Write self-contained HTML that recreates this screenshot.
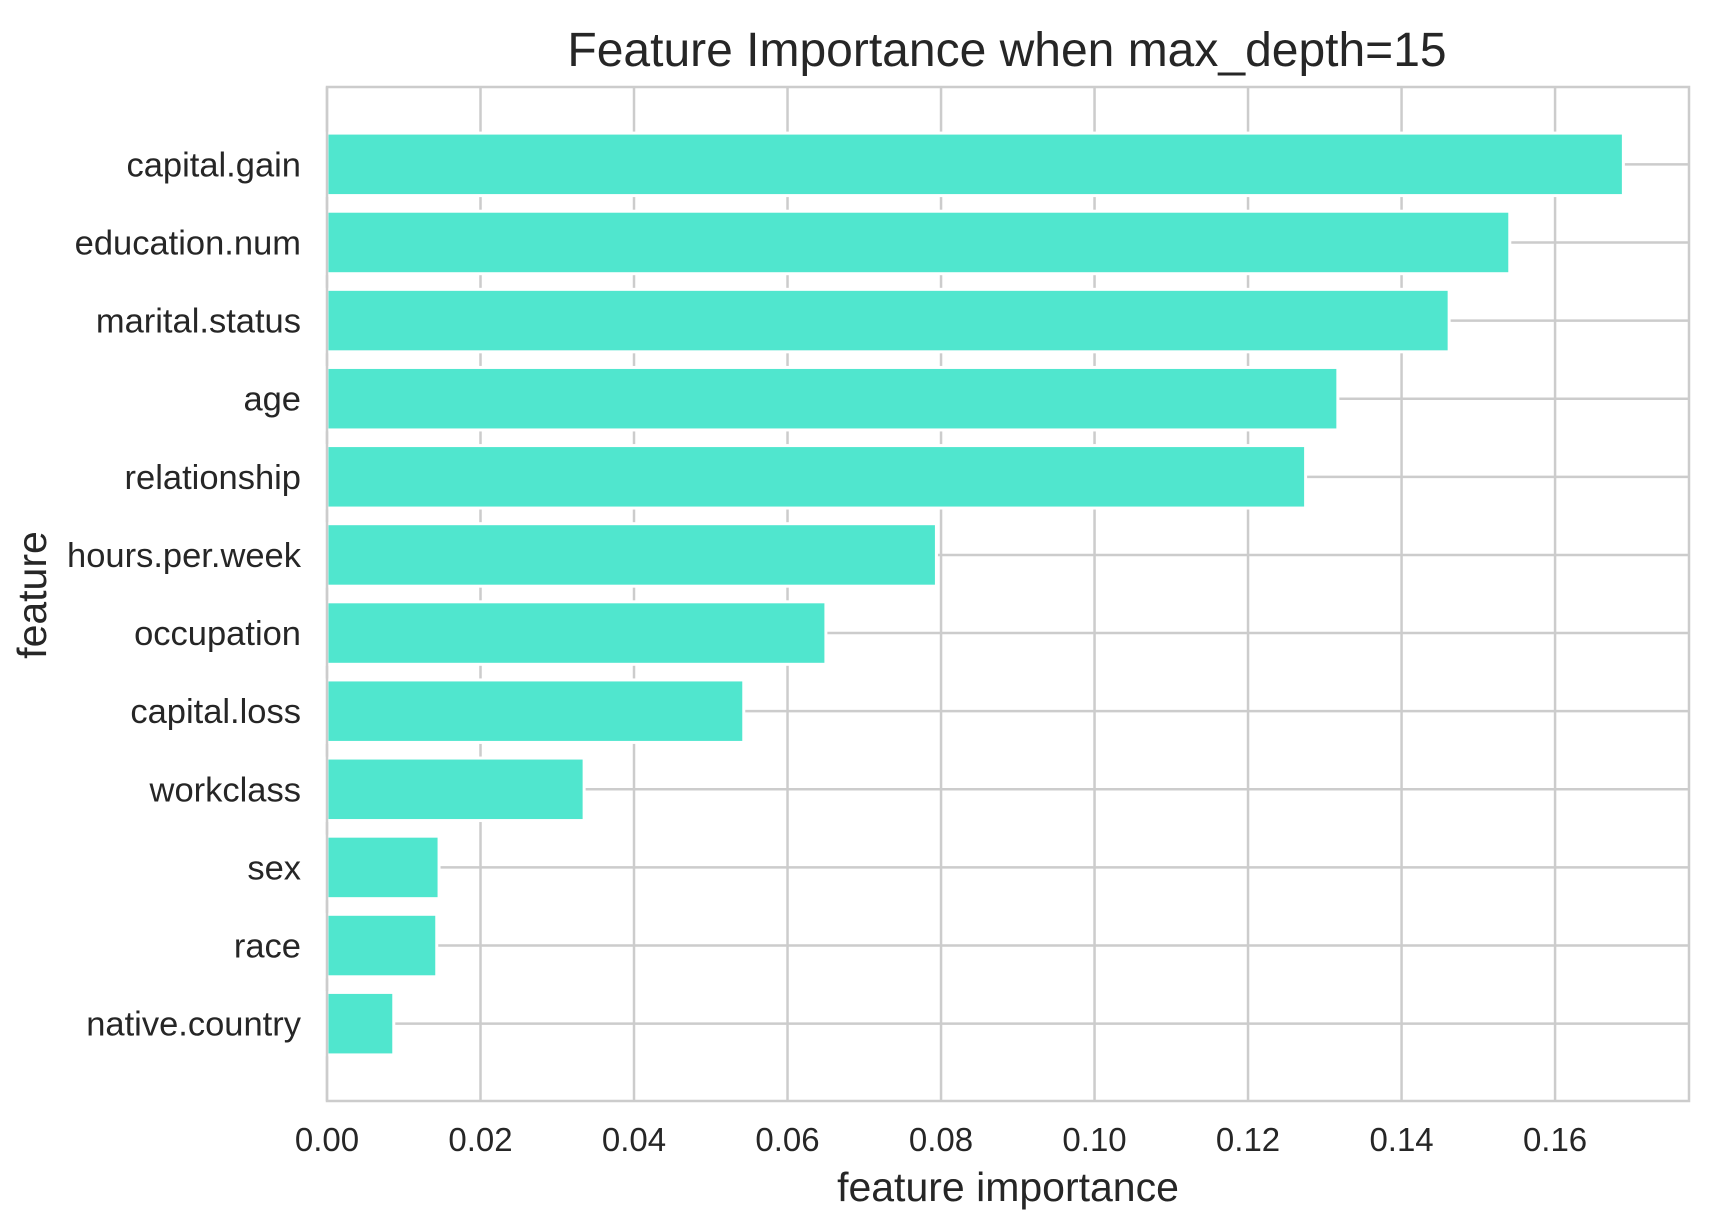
<!DOCTYPE html>
<html><head><meta charset="utf-8"><style>
html,body{margin:0;padding:0;background:#fff;}
svg{display:block;font-family:"Liberation Sans","DejaVu Sans",sans-serif;}
</style></head><body>
<svg id="chart" width="1724" height="1214" viewBox="0 0 1724 1214" xmlns="http://www.w3.org/2000/svg">
<rect width="1724" height="1214" fill="#fff"/>
<text x="1007" y="66" font-size="48" fill="#262626" text-anchor="middle">Feature Importance when max_depth=15</text>
<g id="grid"></g>
<g id="bars"></g>
<rect x="327" y="87" width="1362" height="1014" fill="none" stroke="#cccccc" stroke-width="2.5"/>
<g id="labels"></g>
<text x="1008" y="1201" font-size="41" fill="#262626" text-anchor="middle">feature importance</text>
<text transform="translate(46,595) rotate(-90)" font-size="41" fill="#262626" text-anchor="middle">feature</text>
</svg>
<script>
const categories = ["capital.gain","education.num","marital.status","age","relationship","hours.per.week","occupation","capital.loss","workclass","sex","race","native.country"];
const importances = [0.1689,0.1541,0.1462,0.1317,0.1275,0.0794,0.0650,0.0543,0.0335,0.0146,0.0143,0.0087];
const xTicks = [0,0.02,0.04,0.06,0.08,0.10,0.12,0.14,0.16];
const xTickLabels = ["0.00","0.02","0.04","0.06","0.08","0.10","0.12","0.14","0.16"];

const L=327,R=1689,T=87,B=1101;
const xMax=0.17745;
const x=v=>L+v/xMax*(R-L);
const n=categories.length;
const yLo=-0.99, yHi=n-1+0.99;
const y=i=>T+(i-yLo)/(yHi-yLo)*(B-T);
const bw=0.8*(B-T)/(yHi-yLo);
const NS="http://www.w3.org/2000/svg";
const grid=document.getElementById('grid'),bars=document.getElementById('bars'),labels=document.getElementById('labels');
function mk(tag,attrs,parent){const e=document.createElementNS(NS,tag);for(const k in attrs)e.setAttribute(k,attrs[k]);parent.appendChild(e);return e;}
xTicks.forEach((t,i)=>{
  const g=mk('line',{x1:x(t),x2:x(t),y1:T,y2:B,stroke:'#cccccc','stroke-width':2.5},grid);
  
  
  const tl=mk('text',{x:x(t),y:1151,'font-size':33,fill:'#262626','text-anchor':'middle'},labels);
  tl.textContent=xTickLabels[i];
  
  
});
categories.forEach((c,i)=>{
  const g=mk('line',{x1:L,x2:R,y1:y(i),y2:y(i),stroke:'#cccccc','stroke-width':2.5},grid);
  
  
  const b=mk('rect',{x:x(0),y:y(i)-bw/2,width:x(importances[i])-x(0),height:bw,fill:'#50e6ce',stroke:'#fff','stroke-width':3},bars);
  
  
  const tl=mk('text',{x:301,y:y(i)+12,'font-size':34.5,fill:'#262626','text-anchor':'end'},labels);
  tl.textContent=c;
  
  
});
</script>
</body></html>
